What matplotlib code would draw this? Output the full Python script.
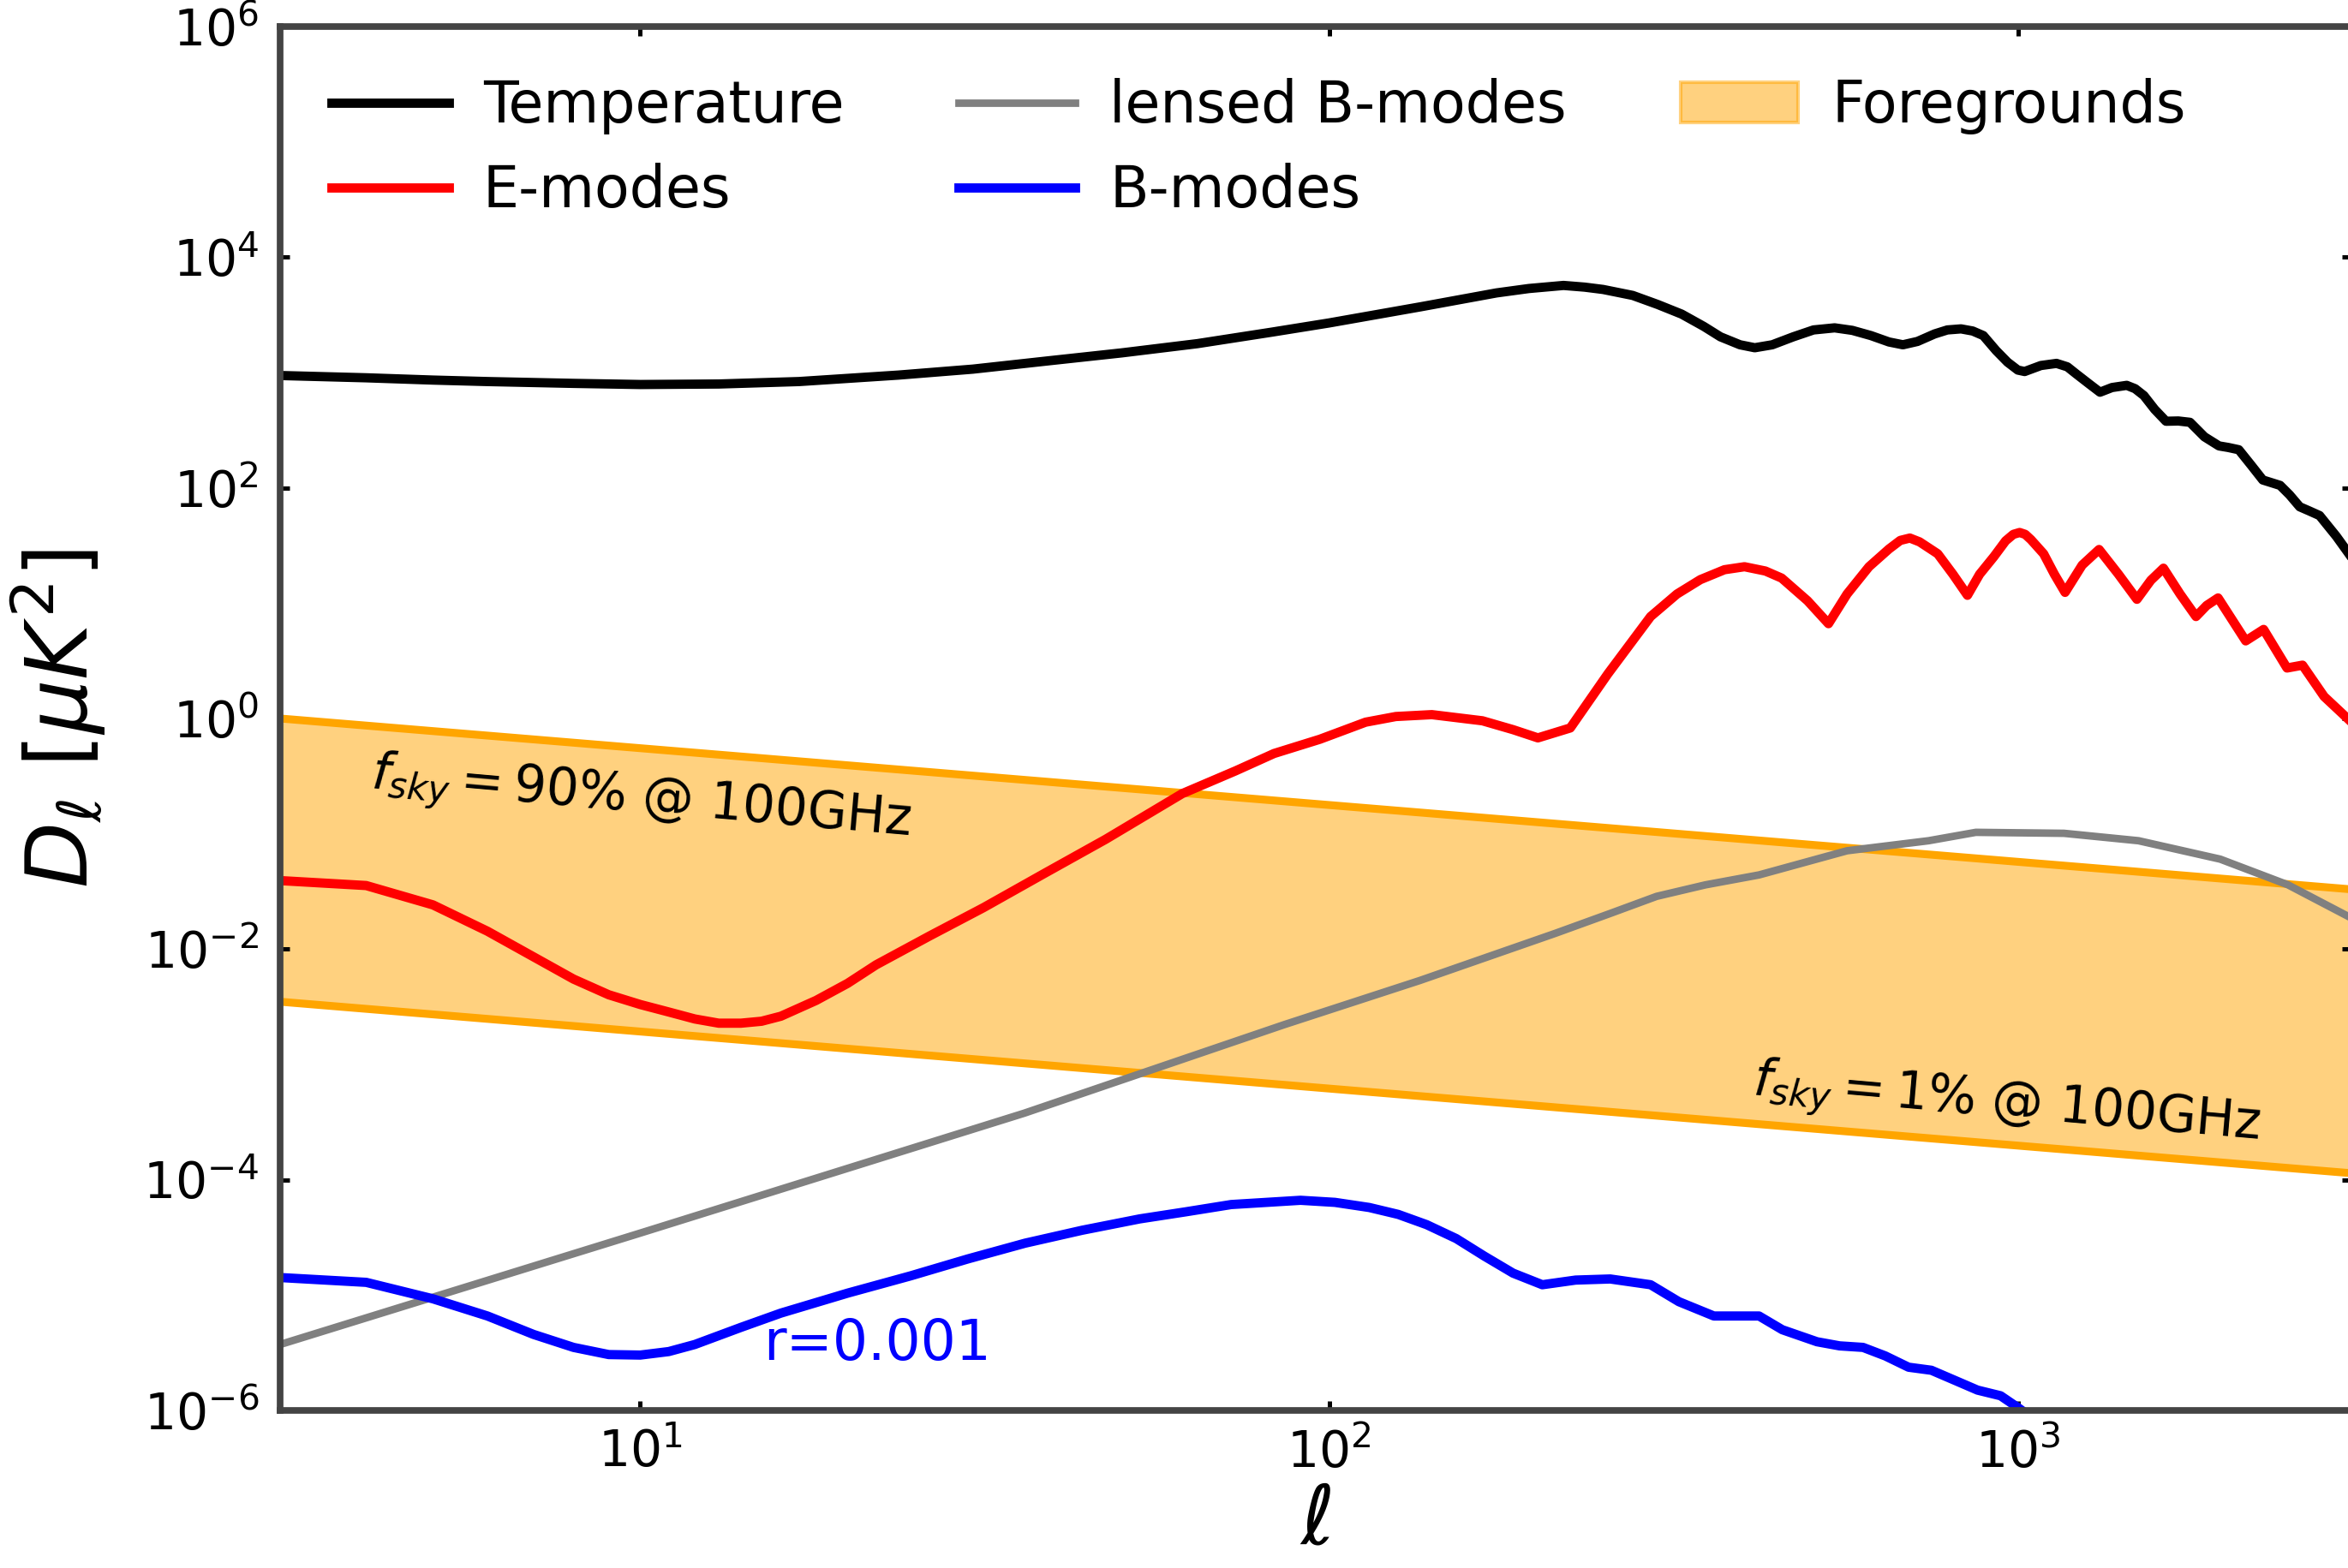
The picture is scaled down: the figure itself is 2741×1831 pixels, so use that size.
import numpy as np
import matplotlib.pyplot as plt

# CMB angular power spectra D_ell [uK^2] versus multipole ell
tt_ell = [3, 4, 5, 6, 8, 10, 13, 17, 23.7, 30.4, 39, 50, 64.4, 82.6, 100, 136, 175, 195, 219,
          235, 250, 276, 300, 325, 350, 370, 395, 415, 440, 472, 505, 542, 575, 612, 650, 681,
          715, 757, 790, 827, 860, 891, 930, 966, 1000, 1023, 1080, 1138, 1180, 1216, 1270,
          1316, 1370, 1439, 1480, 1524, 1580, 1641, 1710, 1778, 1866, 1959, 2020, 2093, 2180,
          2268, 2403, 2480, 2566, 2650, 2742, 2900, 3050]
tt_dl = [942, 900, 860, 835, 805, 787, 795, 835, 950, 1070, 1260, 1480, 1780, 2240, 2690, 3720,
         4900, 5350, 5690, 5500, 5250, 4660, 3890, 3210, 2510, 2040, 1740, 1640, 1740, 2040,
         2340, 2440, 2320, 2090, 1840, 1740, 1860, 2160, 2340, 2390, 2290, 2090, 1550, 1230,
         1050, 1020, 1150, 1200, 1120, 971, 794, 675, 741, 774, 724, 631, 479, 378, 380, 370,
         277, 231, 224, 214, 158, 117, 105, 87, 68.5, 63, 57.5, 38, 25]

ee_ell = [3, 4, 5, 6, 7, 8, 9, 10, 11, 12, 13, 14, 15, 16, 18, 20, 22, 26.3, 31.5, 38.6, 47.4,
          61.2, 73.2, 83.2, 97, 113, 125, 141, 167, 185, 201, 224, 254, 293, 320, 346, 375,
          401, 430, 454, 495, 531, 565, 608, 650, 675, 697, 720, 765, 805, 845, 880, 923, 960,
          985, 1006, 1025, 1045, 1090, 1130, 1171, 1240, 1312, 1400, 1489, 1560, 1627, 1720,
          1814, 1880, 1953, 2050, 2142, 2274, 2459, 2590, 2784, 3050]
ee_dl = [0.0393, 0.0356, 0.0242, 0.0143, 0.00857, 0.0055, 0.00402, 0.00331, 0.00285, 0.00248,
         0.00228, 0.00228, 0.00237, 0.00262, 0.00359, 0.00505, 0.00731, 0.013, 0.0229, 0.0453,
         0.0897, 0.223, 0.352, 0.497, 0.661, 0.929, 1.04, 1.08, 0.955, 0.80, 0.679, 0.828,
         2.44, 7.66, 12.0, 16.0, 19.5, 20.7, 19.0, 16.5, 10.5, 6.64, 12.0, 20.7, 29.5, 35.0,
         36.7, 34.0, 26.8, 17.8, 11.7, 17.8, 25.3, 34.7, 39.5, 41.0, 39.5, 35.5, 26.8, 17.8,
         12.4, 21.4, 29.2, 17.8, 10.8, 15.8, 20.1, 12.0, 7.66, 9.55, 11.1, 7.08, 4.71, 5.92,
         2.74, 2.90, 1.55, 0.93]

lens_ell = [3, 10, 36.1, 86, 135.5, 213, 256, 299, 352, 421, 565, 742, 869, 1167, 1497,
            1967, 2467, 3050]
lens_dl = [3.73e-6, 3.45e-5, 3.78e-4, 2.21e-3, 5.35e-3, 0.0137, 0.0204, 0.0287, 0.0361,
           0.0440, 0.0713, 0.0871, 0.103, 0.101, 0.0871, 0.0603, 0.0361, 0.0186]

bb_ell = [3, 4, 5, 6, 7, 8, 9, 10, 11, 12, 14, 16, 20, 24.7, 29.9, 36.2, 43.8, 53.1, 62,
          72.1, 90.9, 102, 114.4, 126, 138.6, 153, 168, 185, 204, 228, 256, 293, 322, 362,
          421, 455, 511, 551, 596, 642, 694, 749, 809, 874, 944, 1000, 1100]
bb_dl = [1.42e-5, 1.29e-5, 9.29e-6, 6.59e-6, 4.56e-6, 3.52e-6, 3.05e-6, 3.02e-6, 3.24e-6,
         3.73e-6, 5.25e-6, 6.98e-6, 1.04e-5, 1.47e-5, 2.06e-5, 2.82e-5, 3.65e-5, 4.58e-5,
         5.28e-5, 6.10e-5, 6.64e-5, 6.37e-5, 5.75e-5, 5.01e-5, 4.08e-5, 3.09e-5, 2.18e-5,
         1.55e-5, 1.23e-5, 1.35e-5, 1.38e-5, 1.23e-5, 8.77e-6, 6.59e-6, 6.59e-6, 5.01e-6,
         3.94e-6, 3.63e-6, 3.52e-6, 2.97e-6, 2.37e-6, 2.23e-6, 1.83e-6, 1.50e-6, 1.34e-6,
         1.06e-6, 7e-7]

# foreground band at 100GHz: f_sky = 90% (upper) and f_sky = 1% (lower)
fg_ell = [3, 3050]
fg_high = [1.0, 0.033]
fg_low = [3.5e-3, 1.14e-4]

W, H = 2741, 1831
fig = plt.figure(figsize=(W / 300, H / 300), dpi=300)
ax = fig.add_axes([327 / W, 1 - 1647 / H, (2745 - 327) / W, (1647 - 31) / H])

fg = ax.fill_between(fg_ell, fg_low, fg_high, color='orange', alpha=0.5, label='Foregrounds')
ax.plot(fg_ell, fg_high, color='orange', lw=2.2)
ax.plot(fg_ell, fg_low, color='orange', lw=2.2)

h_tt, = ax.plot(tt_ell, tt_dl, color='black', lw=2.6, label='Temperature')
h_ee, = ax.plot(ee_ell, ee_dl, color='red', lw=2.6, label='E-modes')
h_lens, = ax.plot(lens_ell, lens_dl, color='gray', lw=2.1, label='lensed B-modes')
h_bb, = ax.plot(bb_ell, bb_dl, color='blue', lw=2.6, label='B-modes')

ax.set_xscale('log')
ax.set_yscale('log')
ax.set_xlim(3, 3050)
ax.set_ylim(1e-6, 1e6)
ax.set_xticks([10, 100, 1000])
ax.set_yticks([1e-6, 1e-4, 1e-2, 1e0, 1e2, 1e4, 1e6])
ax.minorticks_off()
ax.tick_params(which='both', direction='in', top=True, right=True, length=2.7, width=1.2,
               labelsize=14)
ax.tick_params(axis='y', pad=6)
ax.tick_params(axis='x', pad=5)
for sp in ax.spines.values():
    sp.set_linewidth(1.85)
    sp.set_color('#444444')

ax.text(10, 0.195, r'$f_{sky} = 90\%$ @ 100GHz', rotation=-5, ha='center', va='center',
        fontsize=14.3)
ax.text(962, 4.4e-4, r'$f_{sky} = 1\%$ @ 100GHz', rotation=-5, ha='center', va='center',
        fontsize=14.3)
ax.text(15.1, 3.7e-6, 'r=0.001', color='blue', ha='left', va='center', fontsize=15.5)

ax.set_xlabel(r'$\ell$', fontsize=23, labelpad=1)
ax.set_ylabel(r'$D_\ell\ [\mu K^2]$', fontsize=24, labelpad=10)

ax.legend(handles=[h_tt, h_ee, h_lens, h_bb, fg], ncol=3, loc='upper left', frameon=False,
          fontsize=16, handlelength=2.05, handletextpad=0.6, columnspacing=2.0,
          borderaxespad=0.5)

fig.savefig('out.png', dpi=300)
